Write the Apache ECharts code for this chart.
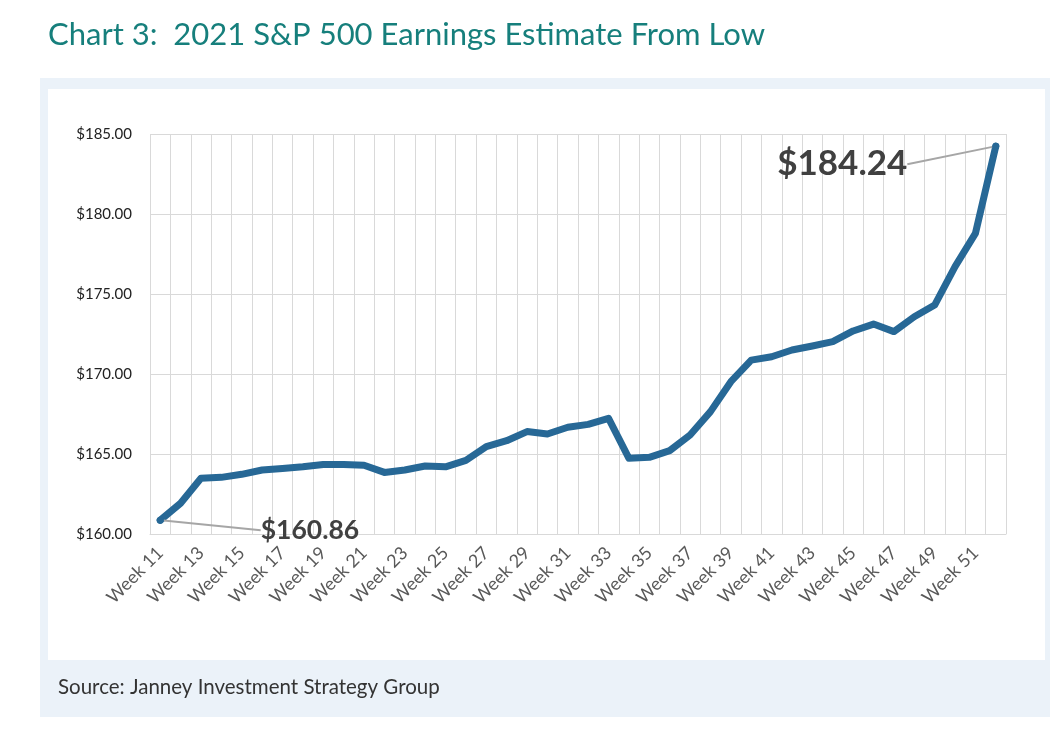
<!DOCTYPE html>
<html>
<head>
<meta charset="utf-8">
<script src="https://cdn.jsdelivr.net/npm/echarts@6/dist/echarts.min.js"></script>
<style>
  html, body { margin: 0; padding: 0; background: #fff; }
  #chart { width: 1053px; height: 743px; }
</style>
</head>
<body>
<div id="chart"></div>
<script>
const weeks = [];
for (let w = 11; w <= 52; w++) weeks.push("Week " + w);

const estimates = [
  160.86, 161.92, 163.48, 163.54, 163.73, 164.00, 164.10, 164.20, 164.35, 164.35,
  164.30, 163.85, 164.00, 164.25, 164.20, 164.60, 165.46, 165.83, 166.40, 166.25,
  166.67, 166.85, 167.23, 164.73, 164.79, 165.21, 166.19, 167.65, 169.52, 170.87,
  171.08, 171.50, 171.75, 172.02, 172.69, 173.12, 172.65, 173.58, 174.31, 176.71,
  178.79, 184.24
];

const yTicks = { min: 160, max: 185, step: 5 };
const titleText = "Chart 3:  2021 S&P 500 Earnings Estimate From Low";
const sourceText = "Source: Janney Investment Strategy Group";

const lastIdx = estimates.length - 1;
const chart = echarts.init(document.getElementById("chart"));

chart.setOption({
  animation: false,
  graphic: [
    { type: "rect", shape: { x: 40, y: 78, width: 1010, height: 639 }, style: { fill: "#ebf2f9" }, z: -10 },
    { type: "rect", shape: { x: 48, y: 89, width: 997, height: 571 }, style: { fill: "#ffffff" }, z: -9 },
    {
      type: "text", left: 48, top: 19,
      style: { text: titleText, fill: "#167f7c", font: "31px Lato" }
    },
    {
      type: "text", left: 58, top: 677,
      style: { text: sourceText, fill: "#333333", font: "20.5px Lato" }
    }
  ],
  grid: { left: 150, right: 47, top: 134, bottom: 209 },
  xAxis: {
    type: "category",
    data: weeks,
    boundaryGap: true,
    axisLine: { show: true, lineStyle: { color: "#d9d9d9", width: 1 } },
    axisTick: { show: false },
    splitLine: { show: true, interval: 0, lineStyle: { color: "#d9d9d9", width: 1 } },
    axisLabel: {
      interval: 1,
      rotate: 45,
      color: "#595959",
      fontFamily: "Lato",
      fontSize: 18,
      margin: 16
    }
  },
  yAxis: {
    type: "value",
    min: yTicks.min,
    max: yTicks.max,
    interval: yTicks.step,
    axisLine: { show: false },
    axisTick: { show: false },
    splitLine: { lineStyle: { color: "#d9d9d9", width: 1 } },
    axisLabel: {
      color: "#222222",
      fontFamily: "Lato",
      fontSize: 15,
      margin: 18,
      formatter: (v) => "$" + v.toFixed(2)
    }
  },
  series: [{
    type: "line",
    data: estimates.map((v, i) => {
      if (i === 0) {
        return { value: v, label: { show: true, position: "right", fontSize: 26.5 } };
      }
      if (i === lastIdx) {
        return { value: v, label: { show: true, position: "left", fontSize: 35 } };
      }
      return v;
    }),
    showSymbol: true,
    showAllSymbol: true,
    symbol: "circle",
    symbolSize: (v, p) => (p.dataIndex === 0 || p.dataIndex === lastIdx ? 7 : 0),
    itemStyle: { color: "#276896" },
    lineStyle: { color: "#276896", width: 7, cap: "round", join: "round" },
    label: {
      show: false,
      color: "#404040",
      fontFamily: "Lato",
      fontWeight: "bold",
      formatter: (p) => "$" + p.value.toFixed(2)
    },
    labelLine: { show: true, lineStyle: { color: "#a6a6a6", width: 2 } },
    labelLayout: (p) => {
      if (p.dataIndex === 0) return { dx: 92, dy: 10 };
      if (p.dataIndex === lastIdx) return { dx: -80, dy: 18 };
      return {};
    }
  }]
});
</script>
</body>
</html>
